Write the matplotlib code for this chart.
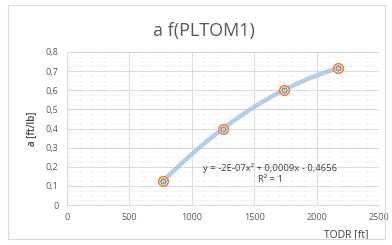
import numpy as np
import matplotlib
matplotlib.use("Agg")
import matplotlib.pyplot as plt
from matplotlib.patches import Rectangle
from matplotlib.ticker import FuncFormatter, MultipleLocator

plt.rcParams['font.family'] = ['Open Sans', 'DejaVu Sans']

# dados
todr = [770, 1250, 1735, 2175]
a_val = [0.125, 0.40, 0.60, 0.715]
x_ticks = [0, 500, 1000, 1500, 2000, 2500]
y_ticks = [0, 0.1, 0.2, 0.3, 0.4, 0.5, 0.6, 0.7, 0.8]

fig = plt.figure(figsize=(3.92, 2.45), dpi=100)
fig.patches.append(Rectangle((0.02, 0.025), 0.962, 0.955, transform=fig.transFigure,
                             fill=False, edgecolor='#d9d9d9', linewidth=0.8))
ax = fig.add_axes([0.171, 0.163, 0.796, 0.625])

# linha de tendencia polinomial (ordem 2)
coef = np.polyfit(todr, a_val, 2)
xs = np.linspace(min(todr), max(todr), 200)
ax.plot(xs, np.polyval(coef, xs), color='#9dc3e6', linewidth=3.2, alpha=0.8,
        solid_capstyle='round', zorder=2)

ax.scatter(todr, a_val, s=48, facecolor='white', edgecolor='#ed7d31', linewidth=1.1, zorder=3)
ax.scatter(todr, a_val, s=14, facecolor='#c9c9c9', edgecolor='#7f7f7f', linewidth=0.8, zorder=4)

ax.set_xlim(0, 2500)
ax.set_ylim(0, 0.8)
ax.set_xticks(x_ticks)
ax.set_yticks(y_ticks)
ax.yaxis.set_major_formatter(FuncFormatter(lambda v, p: ('%.1f' % v).replace('.', ',') if v else '0'))
ax.xaxis.set_minor_locator(MultipleLocator(100))
ax.yaxis.set_minor_locator(MultipleLocator(0.025))
ax.grid(which='major', color='#d9d9d9', linewidth=0.7)
ax.grid(which='minor', color='#f5f5f5', linewidth=0.5)
ax.set_axisbelow(True)
for s in ax.spines.values():
    s.set_visible(False)
for side in ['bottom', 'left']:
    ax.spines[side].set_visible(True)
    ax.spines[side].set_color('#d9d9d9')
    ax.spines[side].set_linewidth(0.7)
ax.tick_params(which='both', length=0, labelsize=6.5, labelcolor='#595959', pad=6)

fig.text(0.52, 0.875, 'a f(PLTOM1)', fontsize=13, color='#595959', ha='center', va='center')
ax.set_ylabel('a [ft/lb]', fontsize=7, color='#404040', labelpad=6, fontweight='semibold')
ax.set_xlabel('TODR [ft]', fontsize=7.5, color='#404040')
ax.xaxis.set_label_coords(0.895, -0.16)

ax.text(1627, 0.193, 'y = -2E-07x² + 0,0009x - 0,4656', fontsize=6.8, color='#404040',
        ha='center', va='center')
ax.text(1627, 0.136, 'R² = 1', fontsize=6.8, color='#404040', ha='center', va='center')

fig.savefig('out.png', dpi=100)
